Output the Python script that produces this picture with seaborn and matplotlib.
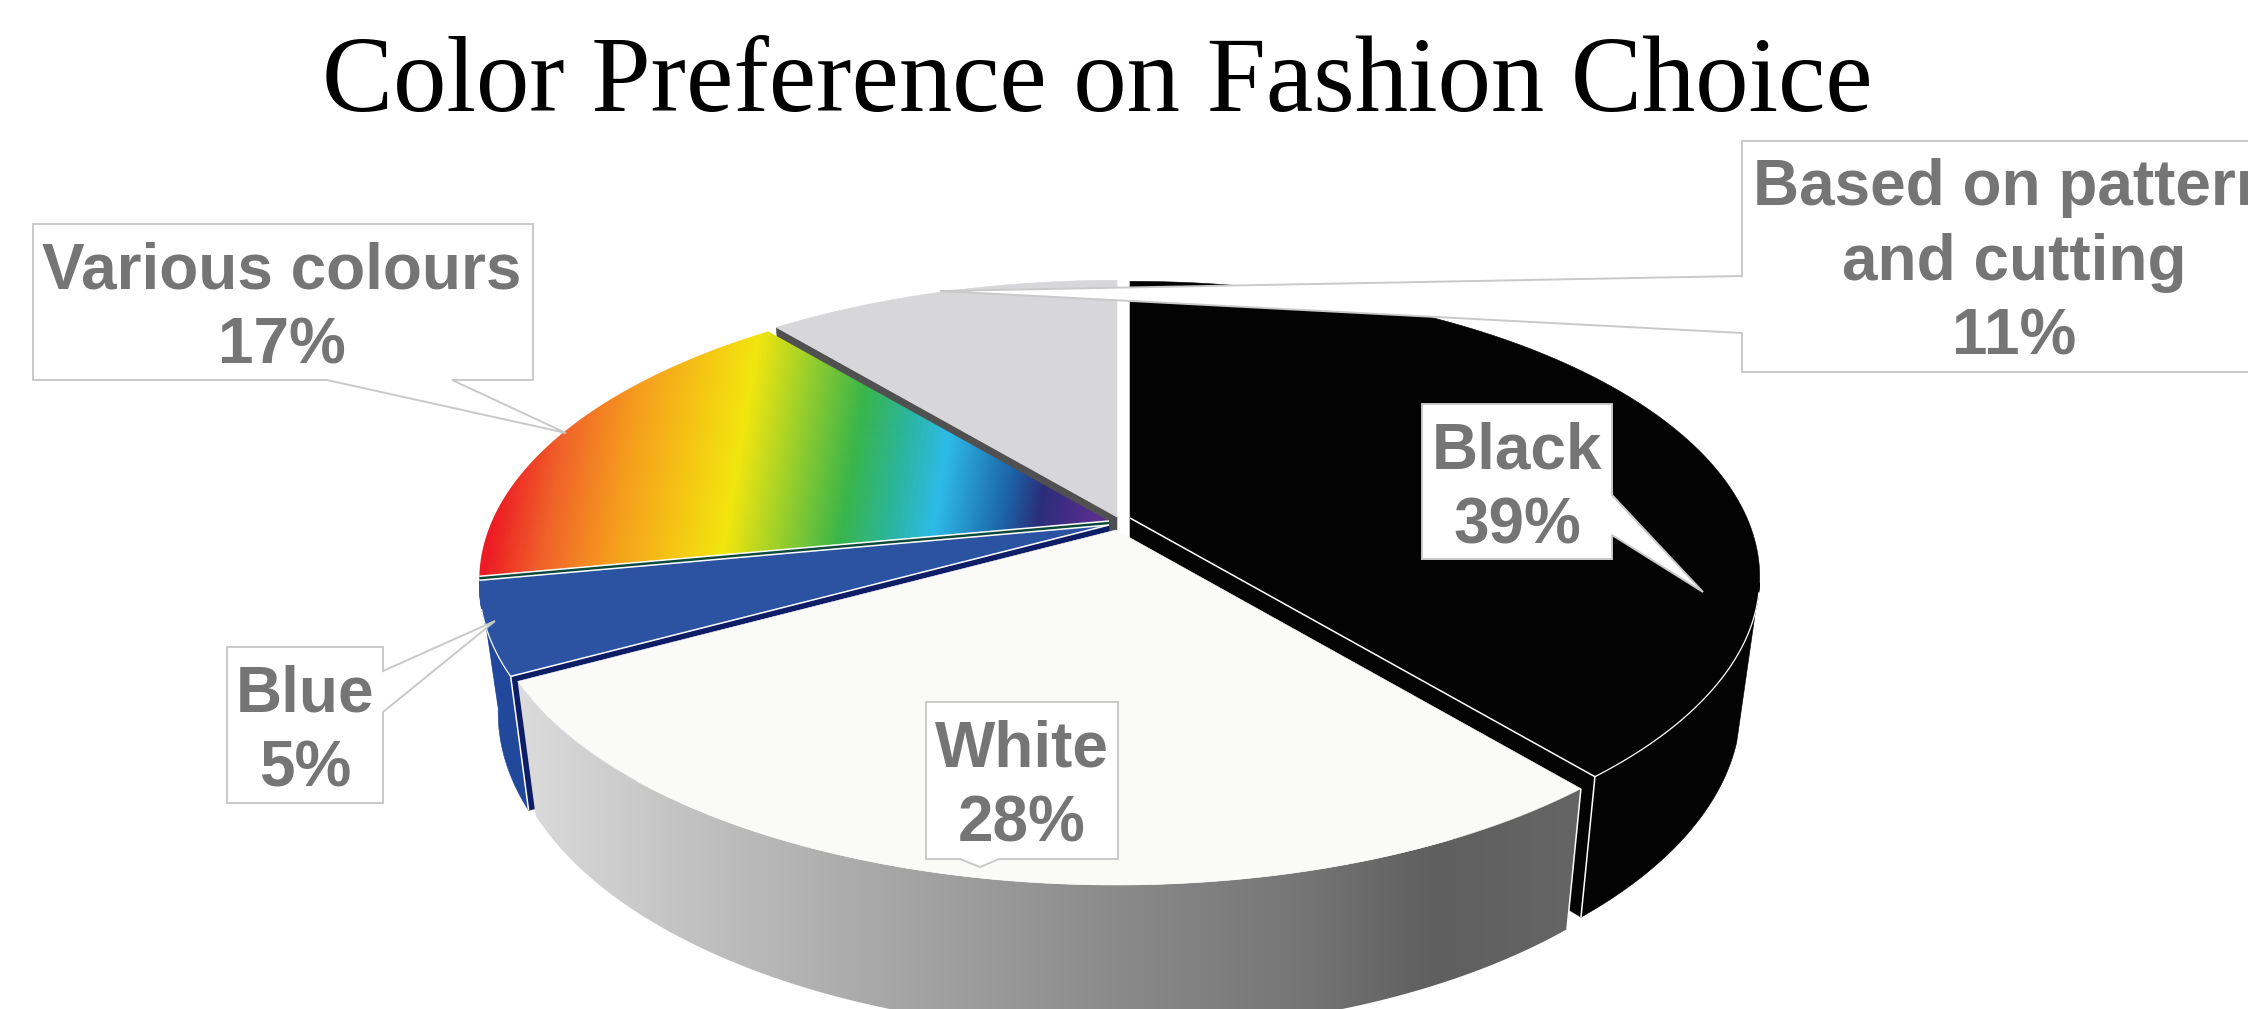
import numpy as np
import matplotlib
matplotlib.use("Agg")
import matplotlib.pyplot as plt
from matplotlib.colors import LinearSegmentedColormap
from matplotlib.patches import Polygon
import seaborn as sns

# ---- data ----
title = "Color Preference on Fashion Choice"
categories = ["Black", "White", "Blue", "Various colours", "Based on pattern\nand cutting"]
values = [39, 28, 5, 17, 11]

# ---- style / layout ----
sns.set_theme(style="white")
plt.rcParams["font.family"] = ["Liberation Sans", "DejaVu Sans"]
W, H = 2248, 1009
R, F, K = 617.0, 284.0, 0.20      # perspective of the disc
WALL_SX, WALL_SY, WALL_DY = 0.97, 1.06, 125.0

top_colors = sns.color_palette(["#030303", "#fafaf8", "#2c52a2", "#000000", "#d7d7d9"])
inner_colors = sns.color_palette(["#030303", "#0e1e66", "#0e1e66", "#0b4a3a", "#505050"])
apexes = [(1130, 518), (1116, 530), (1109, 525), (1109, 521), (1117, 517)]
LABEL_GREY = "#757575"
BOX_GREY = "#c9c9c9"

fig = plt.figure(figsize=(W / 100, H / 100), dpi=100, facecolor="white")
ax = fig.add_axes([0, 0, 1, 1])
ax.set_axis_off()

fracs = np.cumsum([0] + values) / np.sum(values)


def project(frac, apex, wall=False):
    th = 2 * np.pi * np.asarray(frac)
    x, y = np.sin(th), np.cos(th)
    den = 1 + K * y
    sx, sy, dy = (WALL_SX, WALL_SY, WALL_DY) if wall else (1, 1, 0)
    return apex[0] + R * sx * x / den, apex[1] + dy - F * sy * y / den


def apex_wall(apex):
    return apex[0], apex[1] + WALL_DY


def top_poly(i):
    t = np.linspace(fracs[i], fracs[i + 1], 120)
    x, y = project(t, apexes[i])
    return np.column_stack([np.r_[apexes[i][0], x], np.r_[apexes[i][1], y]])


def outer_wall(i, start, end, bottom_start=None):
    t = np.linspace(start, end, 120)
    tb = np.linspace(start if bottom_start is None else bottom_start, end, 120)
    xt, yt = project(t, apexes[i])
    xb, yb = project(tb[::-1], apexes[i], wall=True)
    return np.column_stack([np.r_[xt, xb], np.r_[yt, yb]])


def inner_wall(i, frac):
    xt, yt = project(frac, apexes[i])
    xb, yb = project(frac, apexes[i], wall=True)
    ax_, ay_ = apex_wall(apexes[i])
    return np.array([apexes[i], (xt, yt), (xb, yb), (ax_, ay_)])


def fill(poly, color, z):
    ax.add_patch(Polygon(poly, closed=True, fc=color, ec=color, lw=0.4, zorder=z))


def gradient(poly, stops_x, stops_c, tilt, z, ref_y):
    xs = np.arange(poly[:, 0].min() - 2, poly[:, 0].max() + 3)
    ys = np.arange(poly[:, 1].min() - 2, poly[:, 1].max() + 3)
    gx, gy = np.meshgrid(xs, ys)
    lo, hi = stops_x[0], stops_x[-1]
    val = np.clip((gx + tilt * (gy - ref_y) - lo) / (hi - lo), 0, 1)
    cmap = LinearSegmentedColormap.from_list(
        "g", [((s - lo) / (hi - lo), c) for s, c in zip(stops_x, stops_c)], N=512)
    im = ax.imshow(val, cmap=cmap, vmin=0, vmax=1, origin="upper", aspect="auto",
                   extent=(xs[0], xs[-1], ys[-1], ys[0]), zorder=z, interpolation="bilinear")
    clip = Polygon(poly, closed=True, fc="none", ec="none", transform=ax.transData)
    ax.add_patch(clip)
    im.set_clip_path(clip)


def white_line(xs, ys, z, lw=1.1):
    ax.plot(xs, ys, color="white", lw=lw, zorder=z, solid_capstyle="butt")


BLACK, WHITE, BLUE, VARIOUS, OTHER = range(5)

# grey slice (back)
fill(inner_wall(OTHER, fracs[OTHER]), inner_colors[OTHER], 1)
fill(top_poly(OTHER), top_colors[OTHER], 2)

# rainbow slice
fill(inner_wall(VARIOUS, fracs[VARIOUS]), inner_colors[VARIOUS], 3)
rainbow_x = [490, 545, 612, 678, 725, 840, 890, 932, 1000, 1035, 1095]
rainbow_c = ["#ed1c24", "#f0622a", "#f69c1e", "#f5c814", "#f2e60f", "#39b54a", "#2bb5a0",
             "#2ebbe8", "#1c64a8", "#2b2e7a", "#5b2d90"]
gradient(top_poly(VARIOUS), rainbow_x, rainbow_c, 0.165, 4, 540)

# blue slice
fill(inner_wall(BLUE, fracs[BLUE]), inner_colors[BLUE], 5)
fill(outer_wall(BLUE, fracs[BLUE], fracs[BLUE + 1]), "#21489b", 5)
fill(top_poly(BLUE), top_colors[BLUE], 6)

# black slice
fill(inner_wall(BLACK, fracs[BLACK + 1]), inner_colors[BLACK], 5)
fill(outer_wall(BLACK, 0.285, fracs[BLACK + 1], bottom_start=0.30), top_colors[BLACK], 5)
fill(top_poly(BLACK), top_colors[BLACK], 6)

# white slice
wall_x = [515, 700, 900, 1118, 1300, 1434, 1580]
wall_c = ["#dcdcdc", "#c0c0c0", "#a5a5a5", "#8a8a8a", "#767676", "#5f5f5f", "#656565"]
gradient(outer_wall(WHITE, fracs[WHITE], fracs[WHITE + 1]), wall_x, wall_c, 0, 7, 800)
fill(top_poly(WHITE), top_colors[WHITE], 8)

# thin light edges
for i, f in [(VARIOUS, fracs[VARIOUS]), (BLUE, fracs[BLUE + 1]), (BLUE, fracs[BLUE]), (BLACK, fracs[BLACK + 1])]:
    x, y = project(f, apexes[i])
    white_line([apexes[i][0], x], [apexes[i][1], y], 9)
for i, f in [(BLUE, fracs[BLUE]), (BLACK, fracs[BLACK + 1]), (WHITE, fracs[WHITE])]:
    xt, yt = project(f, apexes[i])
    xb, yb = project(f, apexes[i], wall=True)
    white_line([xt, xb], [yt, yb], 9)
t = np.linspace(0.29, fracs[BLACK + 1], 80)
white_line(*project(t, apexes[BLACK]), 9, lw=0.9)
t = np.linspace(fracs[BLUE], fracs[BLUE] + 0.035, 30)
white_line(*project(t, apexes[BLUE]), 9, lw=0.9)

# callout boxes, one outline per label, in label order
boxes = [
    [(1422, 404), (1612, 404), (1612, 495), (1703, 592), (1612, 535), (1612, 559), (1422, 559)],
    [(926, 702), (1118, 702), (1118, 859), (999, 859), (980, 867), (960, 859), (926, 859)],
    [(227, 647), (383, 647), (383, 671), (495, 621), (383, 712), (383, 803), (227, 803)],
    [(33, 224), (533, 224), (533, 380), (452, 380), (566, 433), (327, 380), (33, 380)],
    [(1742, 141), (2300, 141), (2300, 372), (1742, 372), (1742, 333), (940, 291), (1742, 276)],
]
label_xy = [(1517, 489), (1022, 787), (305, 732), (282, 309), (2014, 263)]
for name, val, box, (lx, ly) in zip(categories, values, boxes, label_xy):
    ax.add_patch(Polygon(box, closed=True, fc="white", ec=BOX_GREY, lw=1.4, zorder=20))
    ax.text(lx, ly, f"{name}\n{val}%", ha="center", va="center", ma="center",
            color=LABEL_GREY, fontsize=46, fontweight="bold", linespacing=1.31,
            family=["Liberation Sans", "DejaVu Sans"], zorder=21, clip_on=True)

ax.text(1097, 111, title, ha="center", va="baseline", color="black", fontsize=76.8,
        family=["Liberation Serif", "DejaVu Serif"], zorder=22)

ax.set_xlim(0, W)
ax.set_ylim(H, 0)
sns.despine(ax=ax, left=True, bottom=True)
fig.savefig("out.png", dpi=100, facecolor="white")
